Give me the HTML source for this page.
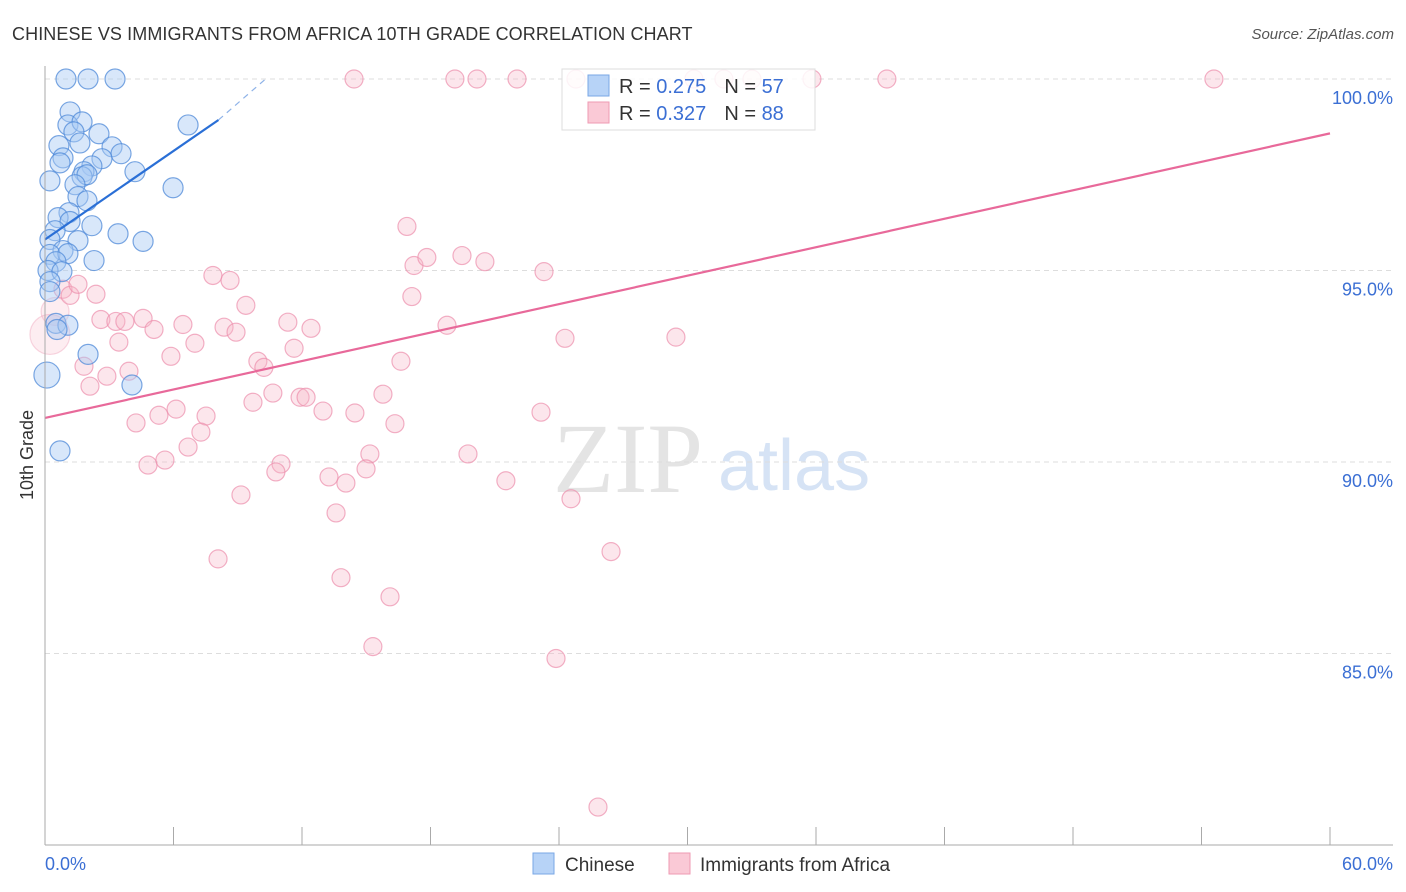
<!DOCTYPE html>
<html><head><meta charset="utf-8"><style>
body{margin:0;background:#fff;font-family:"Liberation Sans",sans-serif;}
svg{display:block}
</style></head><body>
<svg id="chart" width="1406" height="892" xmlns="http://www.w3.org/2000/svg">
<text x="12" y="40" font-size="18" fill="#333" letter-spacing="0.1">CHINESE VS IMMIGRANTS FROM AFRICA 10TH GRADE CORRELATION CHART</text>
<text x="1394" y="39" font-size="15" fill="#555" font-style="italic" text-anchor="end">Source: ZipAtlas.com</text>
<g>
<text x="553" y="492" font-size="100" font-family="Liberation Serif,serif" fill="#e4e4e4">ZIP</text>
<text x="718" y="490" font-size="72" fill="#d6e3f5">atlas</text>
</g>
<g id="grid"></g>
<g id="marks"></g>
<g id="axes"></g>
<text transform="translate(33,455) rotate(-90)" font-size="18" fill="#333" text-anchor="middle">10th Grade</text>
<g>
<rect x="562" y="69" width="253" height="61" fill="#fff" fill-opacity="0.85" stroke="#ddd"/>
<rect x="588" y="75" width="21" height="21" fill="#b7d3f7" stroke="#7aa7e6"/>
<text x="619" y="93" font-size="20" fill="#333">R = <tspan fill="#3b6fd4">0.275</tspan><tspan dx="18">N = </tspan><tspan fill="#3b6fd4">57</tspan></text>
<rect x="588" y="102" width="21" height="21" fill="#fac9d6" stroke="#ef9ab3"/>
<text x="619" y="120" font-size="20" fill="#333">R = <tspan fill="#3b6fd4">0.327</tspan><tspan dx="18">N = </tspan><tspan fill="#3b6fd4">88</tspan></text>
</g>
<g>
<rect x="533" y="853" width="21" height="21" fill="#b7d3f7" stroke="#7aa7e6"/>
<text x="565" y="871" font-size="19" fill="#333">Chinese</text>
<rect x="669" y="853" width="21" height="21" fill="#fac9d6" stroke="#ef9ab3"/>
<text x="700" y="871" font-size="19" fill="#333">Immigrants from Africa</text>
</g>
</svg>
<script>
const yTicks=[100,95,90,85];
const yTickLabels=["100.0%","95.0%","90.0%","85.0%"];
const xTickVals=[0,6,12,18,24,30,36,42,48,54,60];
const blueX=[0.98,2.01,3.27,1.17,1.07,1.73,2.52,1.35,1.63,0.65,3.13,0.84,3.55,2.66,0.70,2.19,4.20,1.82,1.73,1.96,1.40,5.98,0.23,1.54,1.96,1.12,0.61,1.17,2.19,3.41,0.47,0.23,4.58,1.54,0.84,0.23,1.07,2.29,0.51,0.14,0.79,0.23,0.23,0.51,1.07,0.56,2.01,4.06,0.09,0.70,6.68];
const blueY=[100,100,100,99.14,98.80,98.88,98.57,98.62,98.33,98.26,98.23,97.94,98.05,97.92,97.81,97.73,97.58,97.58,97.45,97.50,97.24,97.16,97.34,96.93,96.82,96.51,96.38,96.28,96.17,95.96,96.04,95.81,95.76,95.78,95.52,95.42,95.44,95.26,95.23,95.0,94.97,94.71,94.45,93.62,93.57,93.46,92.81,92.01,92.27,90.29,98.80];
const blueR=[10,10,10,10,10,10,10,10,10,10,10,10,10,10,10,10,10,10,10,10,10,10,10,10,10,10,10,10,10,10,10,10,10,10,10,10,10,10,10,10,10,10,10,10,10,10,10,10,13,10,10];
const pinkX=[14.43,19.14,20.17,22.04,24.79,30.3,31.7,33.01,35.81,39.31,54.58,16.90,17.23,17.83,19.47,20.54,23.30,7.84,8.64,9.38,17.13,2.38,0.84,1.17,1.54,0.47,2.61,3.31,3.73,4.58,5.09,6.44,8.36,8.92,11.34,12.42,18.77,24.28,29.46,3.45,7.00,5.88,9.94,10.22,11.63,16.62,1.82,2.89,3.92,2.10,9.71,10.64,11.91,12.19,12.98,14.47,15.78,23.16,5.32,6.12,7.52,4.25,7.28,16.34,6.68,4.81,5.60,15.17,19.75,11.02,10.78,13.26,14.05,14.99,21.52,9.15,24.56,13.59,26.43,8.08,13.82,16.11,15.31,23.86,25.82,0.23];
const pinkY=[100,100,100,100,100,100,100,100,100,100,100,96.15,95.13,95.34,95.39,95.23,94.97,94.87,94.74,94.09,94.32,94.38,94.51,94.35,94.64,93.93,93.72,93.67,93.67,93.75,93.46,93.59,93.52,93.39,93.65,93.49,93.57,93.23,93.26,93.13,93.10,92.76,92.63,92.47,92.97,92.63,92.50,92.24,92.37,91.98,91.56,91.80,91.69,91.69,91.33,91.28,91.77,91.30,91.22,91.38,91.20,91.02,90.78,91.0,90.39,89.92,90.05,90.21,90.21,89.95,89.74,89.61,89.45,89.82,89.51,89.14,89.04,88.67,87.66,87.47,86.98,86.48,85.18,84.87,80.99,93.33];
const pinkR=[9,9,9,9,9,9,9,9,9,9,9,9,9,9,9,9,9,9,9,9,9,9,9,9,9,14,9,9,9,9,9,9,9,9,9,9,9,9,9,9,9,9,9,9,9,9,9,9,9,9,9,9,9,9,9,9,9,9,9,9,9,9,9,9,9,9,9,9,9,9,9,9,9,9,9,9,9,9,9,9,9,9,9,9,9,20];
const blueLine=[0,95.81,8.1,98.93];
const blueDash=[8.1,98.93,10.3,100.0];
const pinkLine=[0,91.15,60,98.58];

const X0=45,X1=1330,Y0=79,Y1=845;
const xs=v=>X0+(v/60)*(X1-X0);
const ys=v=>Y0+(100-v)/20*(Y1-Y0);
const NS="http://www.w3.org/2000/svg";
function mk(tag,attrs,parent){const e=document.createElementNS(NS,tag);for(const k in attrs)e.setAttribute(k,attrs[k]);parent.appendChild(e);return e;}
const grid=document.getElementById('grid'),marks=document.getElementById('marks'),axes=document.getElementById('axes');
yTicks.forEach((t,i)=>{
 const l=mk('line',{x1:X0,x2:X1+62,y1:ys(t),y2:ys(t),stroke:'#ddd','stroke-dasharray':'5,4'},grid);
 
 
 const tx=mk('text',{x:1393,y:ys(t)+25,'font-size':18,fill:'#3b6fd4','text-anchor':'end'},axes);
 tx.textContent=yTickLabels[i];
 
 
});
const ax=mk('line',{x1:X0,x2:X0,y1:66,y2:Y1,stroke:'#aaa'},axes);


const bx=mk('line',{x1:X0,x2:1393,y1:Y1,y2:Y1,stroke:'#aaa'},axes);


xTickVals.forEach(v=>{
 const t=mk('line',{x1:xs(v),x2:xs(v),y1:Y1,y2:Y1-18,stroke:'#aaa'},axes);
 
 
});
const xl0=mk('text',{x:45,y:870,'font-size':18,fill:'#3b6fd4'},axes);xl0.textContent='0.0%';


const xl1=mk('text',{x:1393,y:870,'font-size':18,fill:'#3b6fd4','text-anchor':'end'},axes);xl1.textContent='60.0%';


pinkX.forEach((v,i)=>{
 const big=pinkR[i]>12;
 const c=mk('circle',{cx:xs(v),cy:ys(pinkY[i]),r:pinkR[i],fill:'#f7b6c9','fill-opacity':big?0.25:0.35,stroke:'#ec8fac','stroke-opacity':big?0.35:0.7,'stroke-width':1.2},marks);
 
 
});
blueX.forEach((v,i)=>{
 const c=mk('circle',{cx:xs(v),cy:ys(blueY[i]),r:blueR[i],fill:'#a9c9f3','fill-opacity':0.45,stroke:'#4f8ad8','stroke-opacity':0.75,'stroke-width':1.2},marks);
 
 
});
const pl=mk('line',{x1:xs(pinkLine[0]),y1:ys(pinkLine[1]),x2:xs(pinkLine[2]),y2:ys(pinkLine[3]),stroke:'#e8699a','stroke-width':2.2},marks);


const bl=mk('line',{x1:xs(blueLine[0]),y1:ys(blueLine[1]),x2:xs(blueLine[2]),y2:ys(blueLine[3]),stroke:'#2a6fd6','stroke-width':2.2},marks);


const bd=mk('line',{x1:xs(blueDash[0]),y1:ys(blueDash[1]),x2:xs(blueDash[2]),y2:ys(blueDash[3]),stroke:'#8fb3e8','stroke-width':1.2,'stroke-dasharray':'6,5'},marks);


</script>
</body></html>
